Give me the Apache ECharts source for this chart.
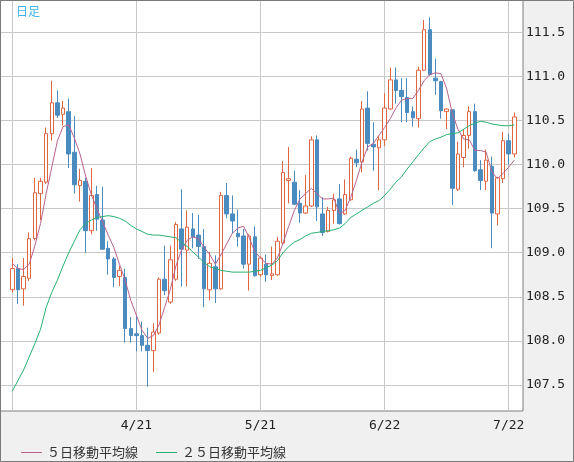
<!DOCTYPE html>
<html><head><meta charset="utf-8">
<script src="https://cdn.jsdelivr.net/npm/echarts@6/dist/echarts.min.js"></script>
<style>html,body{margin:0;padding:0;background:#f0f0f0}#c{width:574px;height:462px}</style>
</head><body><div id="c"></div>
<script>
const dates = ['3/22','3/23','3/24','3/25','3/26','3/29','3/30','3/31',
 '4/1','4/2','4/5','4/6','4/7','4/8','4/9','4/12','4/13','4/14','4/15','4/16','4/19','4/20','4/21','4/22','4/23','4/26','4/27','4/28','4/29','4/30',
 '5/3','5/4','5/5','5/6','5/7','5/10','5/11','5/12','5/13','5/14','5/17','5/18','5/19','5/20','5/21','5/24','5/25','5/26','5/27','5/28','5/31',
 '6/1','6/2','6/3','6/4','6/7','6/8','6/9','6/10','6/11','6/14','6/15','6/16','6/17','6/18','6/21','6/22','6/23','6/24','6/25','6/28','6/29','6/30',
 '7/1','7/2','7/5','7/6','7/7','7/8','7/9','7/12','7/13','7/14','7/15','7/16','7/19','7/20','7/21','7/22','7/23'];
const open = [108.58,108.82,108.59,108.71,109.16,109.67,109.80,110.35,110.70,110.57,
 110.60,110.14,109.76,109.81,109.25,109.66,109.37,109.05,108.93,108.73,
 108.72,108.14,108.08,108.06,107.95,107.89,108.09,108.70,108.44,108.70,
 109.27,109.03,109.27,109.20,109.07,108.58,108.84,108.59,109.65,109.44,
 109.22,109.19,108.87,109.18,108.75,108.87,108.74,108.75,109.11,109.82,
 109.80,109.56,109.45,109.53,110.28,109.44,109.24,109.48,109.61,109.44,
 109.60,110.06,110.03,110.64,110.23,110.19,110.28,110.63,110.96,110.84,
 110.76,110.60,110.52,111.07,111.53,110.98,110.94,110.60,110.62,109.72,
 110.08,110.33,110.60,109.94,109.81,109.98,109.44,109.84,110.27,110.12];
const close = [108.82,108.58,108.73,109.16,109.68,109.81,110.35,110.70,110.56,110.64,
 110.12,109.77,109.82,109.25,109.65,109.38,109.04,108.93,108.72,108.80,
 108.14,108.06,108.06,107.95,107.89,108.10,108.70,108.57,108.92,109.32,
 109.04,109.29,109.18,109.07,108.59,108.88,108.59,109.65,109.44,109.36,
 109.18,108.87,109.19,108.74,108.94,108.75,108.76,109.13,109.91,109.84,
 109.55,109.45,109.53,110.28,109.52,109.23,109.48,109.60,109.33,109.66,
 110.07,110.02,110.63,110.24,110.20,110.28,110.64,110.96,110.84,110.77,
 110.59,110.53,111.07,111.53,111.02,110.95,110.61,110.63,109.73,110.12,
 110.33,110.60,109.93,109.82,110.05,109.45,109.85,110.27,110.12,110.54];
const low = [108.55,108.42,108.40,108.68,109.14,109.37,109.78,110.27,110.53,110.44,
 109.96,109.67,109.58,109.00,109.21,109.25,109.03,108.75,108.61,108.62,
 107.98,107.98,107.88,107.88,107.48,107.65,108.07,108.52,108.42,108.68,
 108.62,108.62,109.05,108.93,108.38,108.46,108.43,108.58,109.39,109.22,
 109.07,108.82,108.57,108.73,108.73,108.67,108.69,108.74,109.10,109.56,
 109.54,109.34,109.44,109.52,109.36,109.19,109.23,109.33,109.32,109.43,
 109.59,109.97,109.91,110.16,109.93,109.71,110.21,110.62,110.69,110.48,
 110.48,110.43,110.42,111.06,111.01,110.79,110.52,110.40,109.54,109.70,
 109.97,110.18,109.92,109.71,109.71,109.05,109.31,109.79,110.00,110.08];
const high = [108.94,108.87,108.94,109.23,109.85,109.85,110.42,110.95,110.84,110.72,
 110.75,110.55,109.95,109.85,109.96,109.76,109.75,109.13,108.95,108.85,
 108.82,108.27,108.29,108.22,108.15,108.20,108.72,109.08,109.08,109.35,
 109.72,109.48,109.45,109.43,109.27,109.01,108.97,109.69,109.79,109.65,
 109.49,109.27,109.21,109.30,108.96,108.98,109.07,109.18,110.04,110.20,
 109.93,109.71,109.88,110.32,110.33,109.63,109.52,109.67,109.78,109.83,
 110.09,110.17,110.72,110.83,110.48,110.33,110.81,111.10,111.10,110.98,
 110.98,110.66,111.11,111.64,111.67,111.20,110.95,110.64,110.63,110.26,
 110.40,110.66,110.69,110.05,110.17,110.09,109.86,110.37,110.35,110.59];
const ma5 = [108.88,108.82,108.81,108.87,109.08,109.33,109.67,109.97,110.27,110.43,
 110.45,110.30,110.12,109.87,109.66,109.50,109.35,109.20,109.06,108.87,
 108.69,108.46,108.29,108.12,108.03,108.06,108.18,108.38,108.58,108.85,
 109.03,109.14,109.18,109.16,109.06,108.98,108.87,108.98,109.10,109.22,
 109.28,109.30,109.17,109.01,108.94,108.88,108.87,108.94,109.11,109.30,
 109.48,109.61,109.67,109.73,109.67,109.61,109.61,109.62,109.44,109.48,
 109.63,109.82,110.03,110.20,110.24,110.33,110.42,110.52,110.64,110.73,
 110.75,110.75,110.84,110.95,111.02,111.04,111.03,110.86,110.58,110.40,
 110.29,110.28,110.16,110.16,110.14,109.92,109.84,109.90,109.97,110.05];
const ma25 = [107.43,107.55,107.67,107.82,107.97,108.13,108.38,108.55,108.69,108.85,
 109.00,109.13,109.26,109.33,109.37,109.40,109.41,109.42,109.41,109.39,
 109.36,109.31,109.27,109.24,109.21,109.20,109.20,109.19,109.18,109.17,
 109.12,109.07,109.01,108.95,108.89,108.84,108.82,108.80,108.79,108.78,
 108.78,108.78,108.78,108.79,108.80,108.83,108.86,108.91,109.00,109.07,
 109.12,109.15,109.19,109.22,109.23,109.24,109.25,109.26,109.28,109.33,
 109.40,109.44,109.48,109.52,109.56,109.59,109.65,109.72,109.80,109.86,
 109.95,110.03,110.11,110.19,110.26,110.29,110.31,110.34,110.35,110.36,
 110.40,110.44,110.47,110.49,110.48,110.46,110.45,110.44,110.44,110.45];
const xGridIdx = [0,22,44,66,88];
const xLabelIdx = [22,44,66,88];
const yTicks = [107.5,108.0,108.5,109.0,109.5,110.0,110.5,111.0,111.5];
const seriesNames = ['５日移動平均線','２５日移動平均線'];

const candleData = dates.map((d,i)=>[i, open[i], close[i], low[i], high[i]]);
const ma5Data = ma5.map((v,i)=>[i,v]);
const ma25Data = ma25.map((v,i)=>[i,v]);

const chart = echarts.init(document.getElementById('c'), null, {renderer:'canvas'});
chart.setOption({
  animation:false,
  backgroundColor:'#f0f0f0',
  title:{text:'日足', left:16, top:5, padding:0,
    textStyle:{fontSize:12, fontWeight:'normal', color:'#3cb4e6', fontFamily:'Noto Sans CJK JP'}},
  legend:{left:16, top:441, itemWidth:21, itemHeight:1, itemGap:18, icon:'rect',
    textStyle:{fontSize:13, color:'#333', fontFamily:'Noto Sans CJK JP'}, data:seriesNames},
  grid:{left:0, top:0, right:51, bottom:51, show:true, backgroundColor:'#ffffff',
    borderColor:'#7f7f7f', borderWidth:1},
  xAxis:{type:'value', min:-2.18, max:90.53,
    axisLine:{show:false},
    axisTick:{show:false, customValues:xGridIdx},
    splitLine:{show:true, lineStyle:{color:'#c8c8c8', width:1}},
    axisLabel:{customValues:xLabelIdx, formatter:v=>dates[Math.round(v)],
      fontFamily:'DejaVu Sans Mono', fontSize:13, color:'#222', margin:8}},
  yAxis:{type:'value', position:'right', min:107.205, max:111.866,
    axisLine:{show:false},
    axisTick:{show:false, customValues:yTicks},
    splitLine:{show:true, lineStyle:{color:'#c8c8c8', width:1}},
    axisLabel:{customValues:yTicks, formatter:v=>v.toFixed(1),
      fontFamily:'DejaVu Sans Mono', fontSize:13, color:'#222', margin:3}},
  series:[
    {type:'candlestick', data:candleData, barWidth:4,
      itemStyle:{color:'#ffffff', color0:'#4a8bc0', borderColor:'#e0663f', borderColor0:'#4a8bc0', borderWidth:1}},
    {name:seriesNames[0], type:'line', data:ma5Data, symbol:'none', z:3,
      lineStyle:{color:'#b8628e', width:1}, itemStyle:{color:'#b8628e'}},
    {name:seriesNames[1], type:'line', data:ma25Data, symbol:'none', z:3,
      lineStyle:{color:'#27b070', width:1}, itemStyle:{color:'#27b070'}}
  ],
  graphic:[{type:'rect', shape:{x:0.5,y:0.5,width:573,height:461},
    style:{fill:null, stroke:'#7a7a7a', lineWidth:1}, z:100}]
});
</script></body></html>
